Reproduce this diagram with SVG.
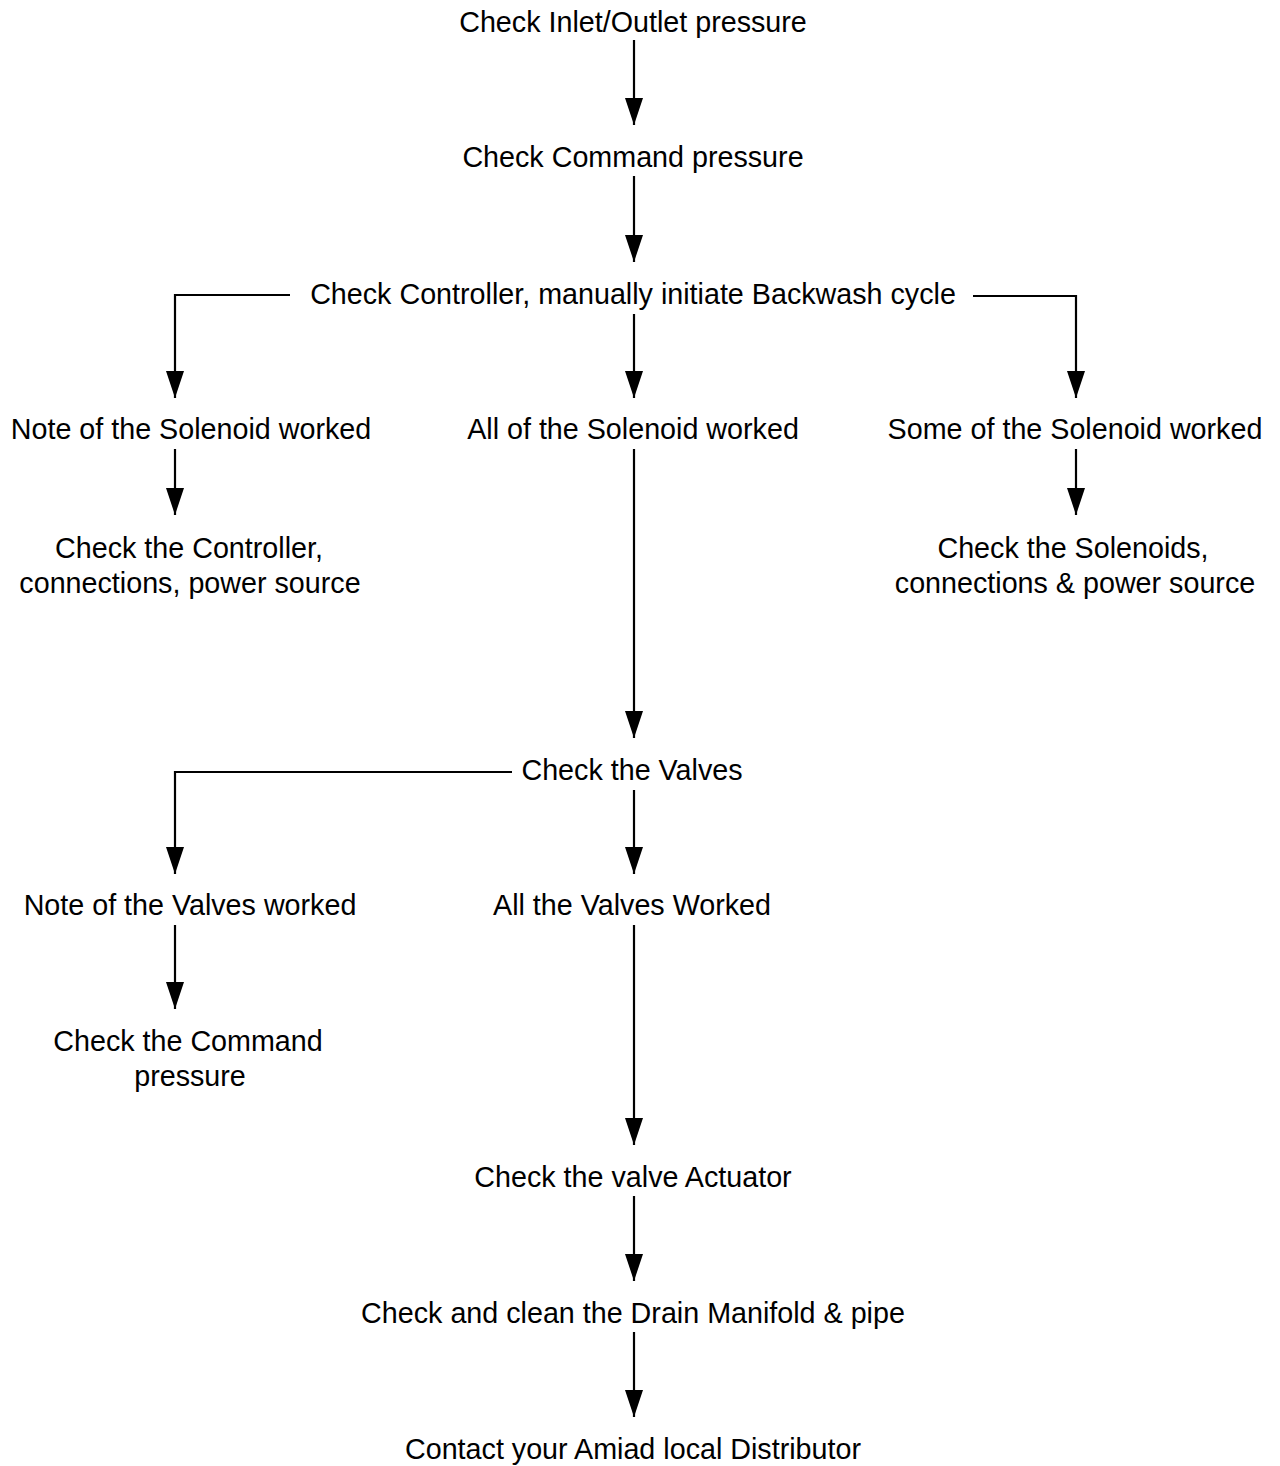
<svg xmlns="http://www.w3.org/2000/svg" width="1280" height="1466" viewBox="0 0 1280 1466">
<style>
text{font-family:"Liberation Sans",Arial,sans-serif;font-size:28.7px;fill:#000;text-anchor:middle}
.c path{fill:none;stroke:#000;stroke-width:2.2}
</style>
<defs>
<marker id="ah" markerUnits="userSpaceOnUse" markerWidth="28" markerHeight="20" refX="27" refY="9" orient="auto">
<path d="M0,0 L27,9 L0,18 z" fill="#000"/>
</marker>
</defs>
<rect width="1280" height="1466" fill="#fff"/>
<g class="c" id="connectors">
<path d="M634,40 V125" marker-end="url(#ah)"/>
<path d="M634,176 V262" marker-end="url(#ah)"/>
<path d="M634,314 V398" marker-end="url(#ah)"/>
<path d="M290,295 H175 V398" marker-end="url(#ah)"/>
<path d="M973,296 H1076 V398" marker-end="url(#ah)"/>
<path d="M175,449 V515" marker-end="url(#ah)"/>
<path d="M634,449 V738" marker-end="url(#ah)"/>
<path d="M1076,449 V515" marker-end="url(#ah)"/>
<path d="M512,772 H175 V874" marker-end="url(#ah)"/>
<path d="M634,790 V874" marker-end="url(#ah)"/>
<path d="M175,925 V1009" marker-end="url(#ah)"/>
<path d="M634,925 V1145" marker-end="url(#ah)"/>
<path d="M634,1196 V1281" marker-end="url(#ah)"/>
<path d="M634,1332 V1417" marker-end="url(#ah)"/>
</g>
<g id="n1"><text x="633" y="32">Check Inlet/Outlet pressure</text></g>
<g id="n2"><text x="633" y="167">Check Command pressure</text></g>
<g id="n3"><text x="633" y="304">Check Controller, manually initiate Backwash cycle</text></g>
<g id="n4"><text x="191" y="439">Note of the Solenoid worked</text></g>
<g id="n5"><text x="633" y="439">All of the Solenoid worked</text></g>
<g id="n6"><text x="1075" y="439">Some of the Solenoid worked</text></g>
<g id="n7"><text x="189" y="558">Check the Controller,</text><text x="190" y="593">connections, power source</text></g>
<g id="n8"><text x="1073" y="558">Check the Solenoids,</text><text x="1075" y="593">connections &amp; power source</text></g>
<g id="n9"><text x="632" y="780">Check the Valves</text></g>
<g id="n10"><text x="190" y="915">Note of the Valves worked</text></g>
<g id="n11"><text x="632" y="915">All the Valves Worked</text></g>
<g id="n12"><text x="188" y="1051">Check the Command</text><text x="190" y="1086">pressure</text></g>
<g id="n13"><text x="633" y="1187">Check the valve Actuator</text></g>
<g id="n14"><text x="633" y="1323">Check and clean the Drain Manifold &amp; pipe</text></g>
<g id="n15"><text x="633" y="1459">Contact your Amiad local Distributor</text></g>
</svg>
